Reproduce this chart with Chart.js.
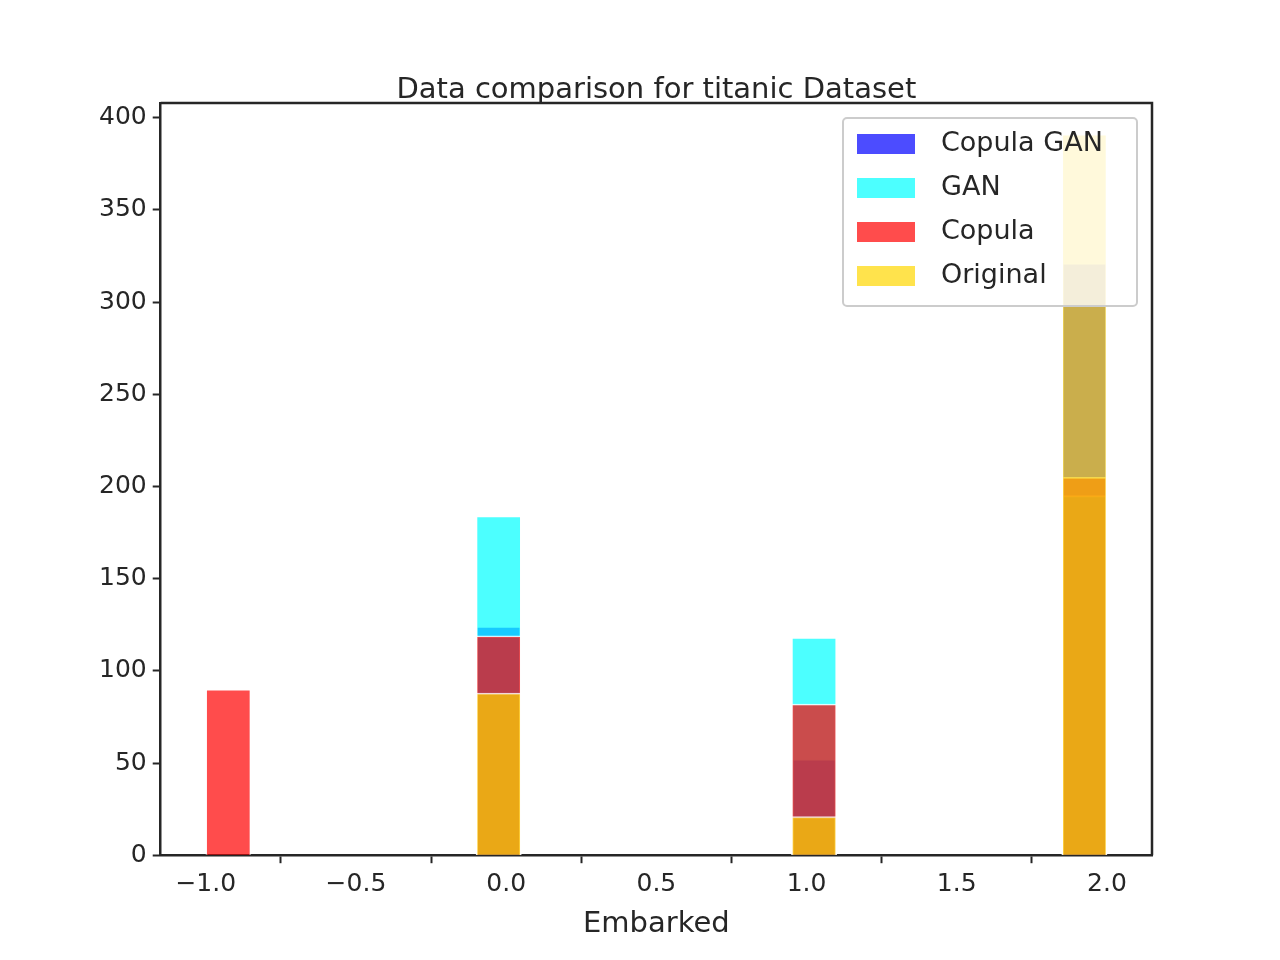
<!DOCTYPE html>
<html>
<head>
<meta charset="utf-8">
<script src="https://cdn.jsdelivr.net/npm/chart.js@4"></script>
<style>
  body { margin: 0; background: #fff; }
  #wrap { width: 1280px; height: 960px; }
</style>
</head>
<body>
<div id="wrap"><canvas id="c" width="1280" height="960"></canvas></div>
<script>
// bin centres (20 bins from -1 to 2, width 0.15)
const binCenters = [];
for (let i = 0; i < 20; i++) binCenters.push(-1 + 0.075 + i * 0.15);

const names = ["Copula GAN", "GAN", "Copula", "Original"];
const fills = ["rgba(0,0,255,0.7)", "rgba(0,255,255,0.7)", "rgba(255,0,0,0.7)", "rgba(255,215,0,0.7)"];

// counts per bin (only the 4 occupied bins are non-zero)
const copulaGan = [0,0,0,0,0,0, 124, 0,0,0,0,0,0, 52, 0,0,0,0,0, 321];
const gan       = [0,0,0,0,0,0, 184, 0,0,0,0,0,0, 118, 0,0,0,0,0, 195];
const copula    = [90,0,0,0,0,0, 119, 0,0,0,0,0,0, 82, 0,0,0,0,0, 205];
const original  = [0,0,0,0,0,0, 88, 0,0,0,0,0,0, 21, 0,0,0,0,0, 391];

const xTicks = [-1.0, -0.5, 0.0, 0.5, 1.0, 1.5, 2.0];
const yTicks = [0, 50, 100, 150, 200, 250, 300, 350, 400];

const series = [copulaGan, gan, copula, original];
const FONT = "'DejaVu Sans', sans-serif";
const TXT = "#262626";

const legendBox = {
  id: "legendBox",
  afterDraw(chart) {
    const c = chart.ctx, a = chart.chartArea;
    const w = 294, h = 188, x = a.right - w - 15, y = a.top + 15;
    c.save();
    c.fillStyle = "rgba(255,255,255,0.8)";
    c.strokeStyle = "#cccccc";
    c.lineWidth = 2;
    c.beginPath();
    c.roundRect(x, y, w, h, 4);
    c.fill(); c.stroke();
    c.font = "27px " + FONT;
    c.textBaseline = "middle";
    names.forEach((n, i) => {
      const ry = y + 26 + i * 44;
      c.fillStyle = fills[i];
      c.fillRect(x + 14, ry - 10, 58, 20);
      c.fillStyle = TXT;
      c.fillText(n, x + 98, ry);
    });
    // title centred over the plot area
    c.font = "29px " + FONT;
    c.textAlign = "center";
    c.textBaseline = "alphabetic";
    c.fillText("Data comparison for titanic Dataset", (a.left + a.right) / 2, 98);
    c.restore();
  }
};

new Chart(document.getElementById("c"), {
  type: "bar",
  data: {
    datasets: series.map((s, i) => ({
      label: names[i],
      data: s.map((v, j) => ({ x: binCenters[j], y: v })),
      backgroundColor: fills[i],
      borderColor: "rgba(255,255,255,0.8)",
      borderWidth: 1.5,
      borderSkipped: "bottom",
      barPercentage: 1,
      categoryPercentage: 1,
      grouped: false,
      order: 4 - i
    }))
  },
  options: {
    responsive: false,
    animation: false,
    layout: { padding: { left: 93, right: 128, top: 103, bottom: 14 } },
    plugins: {
      legend: { display: false },
      tooltip: { enabled: false },
      title: { display: false }
    },
    scales: {
      x: {
        type: "linear", min: -1.15, max: 2.15, offset: false,
        afterBuildTicks: ax => { ax.ticks = xTicks.map(v => ({ value: v })); },
        ticks: {
          color: TXT, font: { family: FONT, size: 25 }, padding: 6,
          callback: v => (v < 0 ? "\u2212" : "") + Math.abs(v).toFixed(1)
        },
        grid: { display: true, drawOnChartArea: false, drawTicks: true, tickLength: 8, tickColor: TXT, tickWidth: 2 },
        border: { color: TXT, width: 2.5 },
        title: { display: true, text: "Embarked", color: TXT, font: { family: FONT, size: 29 }, padding: { top: 2 } }
      },
      y: {
        min: 0, max: 408,
        afterBuildTicks: ax => { ax.ticks = yTicks.map(v => ({ value: v })); },
        ticks: { color: TXT, font: { family: FONT, size: 25 }, padding: 6 },
        grid: { display: true, drawOnChartArea: false, drawTicks: true, tickLength: 8, tickColor: TXT, tickWidth: 2 },
        border: { color: TXT, width: 2.5 }
      }
    }
  },
  plugins: [legendBox, {
    id: "frame",
    afterDraw(chart) {
      const c = chart.ctx, a = chart.chartArea;
      c.save();
      c.strokeStyle = TXT; c.lineWidth = 2.5;
      c.beginPath();
      c.moveTo(a.left, a.top); c.lineTo(a.right, a.top); c.lineTo(a.right, a.bottom);
      c.stroke();
      c.restore();
    }
  }]
});
</script>
</body>
</html>
